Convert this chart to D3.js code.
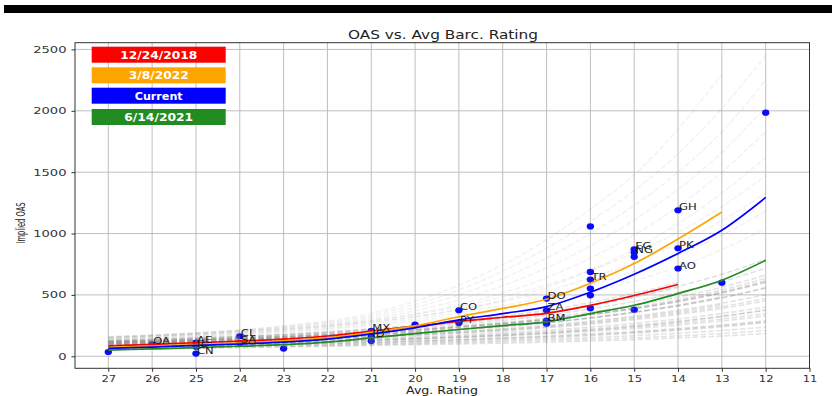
<!DOCTYPE html>
<html>
<head>
<meta charset="utf-8">
<script src="https://cdn.jsdelivr.net/npm/d3@7"></script>
<style>
  body { margin: 0; background: #fff; }
  svg { display: block; }
  text { font-family: "DejaVu Sans", sans-serif; }
</style>
</head>
<body>
<svg id="chart" width="832" height="396"></svg>
<script>
// ---- data ----
const xTickValues = [27, 26, 25, 24, 23, 22, 21, 20, 19, 18, 17, 16, 15, 14, 13, 12, 11];
const yTickValues = [0, 500, 1000, 1500, 2000, 2500];

// fitted curves, one value per integer rating
const curveRatings = [27, 26, 25, 24, 23, 22, 21, 20, 19, 18, 17, 16, 15, 14, 13, 12];
const oasDec2018 = [85, 97, 110, 123, 140, 165, 205, 245, 285, 318, 350, 415, 495, 585, null, null];
const oasMar2022 = [70, 82, 95, 108, 125, 150, 195, 248, 322, 390, 465, 595, 755, 955, 1175, null];
const oasCurrent = [65, 75, 88, 100, 115, 140, 182, 232, 296, 348, 405, 522, 668, 838, 1027, 1294];
const oasJun2021 = [50, 60, 70, 82, 95, 115, 150, 185, 218, 250, 280, 348, 416, 511, 620, 782];

const legendLabels = ["12/24/2018", "3/8/2022", "Current", "6/14/2021"];
const legendColors = ["#ff0000", "#ffa500", "#0000ff", "#228b22"];

// historical daily fits: the bulk of the history ...
const historyRatings = [27, 25, 23, 21, 19, 17, 16, 15, 14, 13, 12];
const historyCurves = [
  [55, 65, 75, 88, 100, 115, 125, 135, 150, 165, 185],
  [60, 70, 80, 94, 110, 128, 138, 150, 166, 185, 210],
  [65, 75, 86, 100, 118, 140, 152, 168, 188, 210, 238],
  [70, 80, 92, 108, 128, 152, 168, 188, 212, 240, 275],
  [72, 83, 96, 113, 134, 160, 176, 196, 220, 248, 282],
  [75, 86, 99, 116, 138, 165, 182, 202, 226, 255, 290],
  [80, 92, 107, 128, 155, 190, 214, 244, 280, 324, 378],
  [82, 94, 109, 128, 152, 182, 202, 226, 254, 288, 328],
  [85, 97, 112, 132, 158, 190, 212, 238, 268, 304, 348],
  [88, 101, 117, 138, 165, 200, 224, 252, 286, 326, 374],
  [90, 104, 121, 144, 174, 212, 238, 268, 304, 348, 400],
  [95, 110, 128, 154, 188, 232, 262, 298, 340, 390, 452],
  [98, 113, 132, 158, 192, 238, 270, 308, 352, 405, 470],
  [100, 115, 135, 162, 198, 245, 278, 318, 364, 420, null],
  [100, 116, 136, 164, 202, 252, 286, 327, 375, 432, 502],
  [105, 121, 143, 174, 216, 272, 310, 356, 410, 475, 555],
  [108, 124, 146, 176, 218, 274, 312, 358, 412, 478, 560],
  [110, 126, 148, 178, 220, 276, 315, 362, 418, 486, null],
  [110, 127, 150, 184, 230, 292, 335, 386, 446, 518, 608],
  [112, 130, 154, 188, 236, 300, 345, 398, 462, 540, 635],
  [115, 133, 158, 194, 244, 312, 360, 416, 482, 562, 662],
  [118, 136, 160, 194, 240, 300, 342, 392, 452, 525, 615],
  [120, 138, 162, 196, 242, 300, 340, 388, 445, 515, 600],
  [120, 139, 165, 204, 258, 333, 385, 447, 520, 608, 718],
  [125, 145, 172, 214, 272, 354, 412, 480, 560, null, null],
  [128, 148, 176, 218, 278, 360, 418, 488, 570, 668, 790],
  [130, 151, 180, 225, 288, 376, 438, 512, 600, null, null]
];
// ... and the stressed periods that fan out above it
const stressCurves = [
  [135, 160, 195, 250, 330, 440, 520, 615, 730, 870, 1040],
  [140, 165, 202, 262, 355, 485, 580, 690, 825, 985, 1185],
  [145, 172, 210, 275, 380, 530, 640, 765, 920, 1105, 1330],
  [145, 176, 216, 288, 405, 580, 700, 840, 1010, 1220, 1470],
  [150, 180, 220, 280, 380, 560, 700, 870, 1080, 1330, 1620],
  [150, 182, 225, 292, 420, 640, 800, 990, 1220, 1500, 1830],
  [155, 185, 230, 305, 460, 720, 900, 1110, 1360, 1660, 2030],
  [155, 188, 236, 320, 500, 800, 1000, 1230, 1500, 1830, 2250],
  [160, 190, 242, 335, 540, 880, 1100, 1350, 1650, 2020, 2450],
  [160, 192, 248, 350, 580, 950, 1200, 1480, 1850, 2300, null]
];

// current issuer spreads
const pointRatings = [27, 26, 25, 25, 25, 24, 24, 23, 21, 21, 21, 20, 19, 19, 17, 17, 17, 17, 16, 16, 16, 16, 16, 16, 15, 15, 15, 15, 14, 14, 14, 13, 12];
const pointOAS =     [35, 98, 112, 78, 22, 163, 108, 63, 208, 160, 124, 258, 375, 272, 470, 375, 290, 266, 1058, 687, 625, 552, 497, 392, 872, 845, 810, 380, 1190, 880, 715, 600, 1985];
const pointLabels =  ["", "OA", "AE", "IL", "CN", "CL", "SA", "", "MX", "ID", "", "", "CO", "PY", "DO", "ZA", "BM", "", "", "", "TR", "", "", "", "EG", "NG", "", "", "GH", "PK", "AO", "", ""];

// ---- layout ----
const svg = d3.select("#chart");
const W = 832, H = 396;
const plot = { left: 75, right: 809.5, top: 42.7, bottom: 368.3 };

const x = d3.scaleLinear().domain([27.76, 11]).range([plot.left, plot.right]);
const y = d3.scaleLinear().domain([-98, 2555]).range([plot.bottom, plot.top]);

svg.append("rect").attr("width", W).attr("height", H).attr("fill", "#fff");
// dark banner strip along the top
svg.append("rect").attr("x", 4).attr("y", 5).attr("width", W - 4).attr("height", 8).attr("fill", "#000");

// gridlines
const grid = svg.append("g").attr("stroke", "#b8b8b8").attr("stroke-width", 0.9);
grid.selectAll("line.v").data(xTickValues).join("line")
  .attr("x1", d => x(d)).attr("x2", d => x(d))
  .attr("y1", plot.top).attr("y2", plot.bottom);
grid.selectAll("line.h").data(yTickValues).join("line")
  .attr("x1", plot.left).attr("x2", plot.right)
  .attr("y1", d => y(d)).attr("y2", d => y(d));

svg.append("clipPath").attr("id", "plotclip").append("rect")
  .attr("x", plot.left).attr("y", plot.top)
  .attr("width", plot.right - plot.left).attr("height", plot.bottom - plot.top);

const body = svg.append("g").attr("clip-path", "url(#plotclip)");

// scatter of current spreads (drawn under the lines)
const points = pointRatings.map((r, i) => ({ r, v: pointOAS[i], label: pointLabels[i] }));
body.append("g").selectAll("ellipse").data(points).join("ellipse")
  .attr("cx", d => x(d.r)).attr("cy", d => y(d.v))
  .attr("rx", 3.7).attr("ry", 3.1)
  .attr("fill", "#0a0aff");

// historical fits
const histLine = d3.line()
  .defined(d => d.v != null)
  .x(d => x(d.r)).y(d => y(d.v))
  .curve(d3.curveMonotoneX);
function drawHistory(curves, opacity) {
  body.append("g").selectAll("path").data(curves).join("path")
    .attr("d", c => histLine(c.map((v, i) => ({ r: historyRatings[i], v }))))
    .attr("fill", "none")
    .attr("stroke", "#6e6e6e")
    .attr("stroke-width", 1.5)
    .attr("stroke-dasharray", "5.5,2.4")
    .attr("stroke-opacity", opacity);
}
drawHistory(historyCurves, 0.2);
drawHistory(stressCurves, 0.09);

// highlighted fits
const fits = [oasDec2018, oasMar2022, oasCurrent, oasJun2021];
body.append("g").selectAll("path").data(fits).join("path")
  .attr("d", s => histLine(s.map((v, i) => ({ r: curveRatings[i], v }))))
  .attr("fill", "none")
  .attr("stroke", (s, i) => legendColors[i])
  .attr("stroke-width", 1.7)
  .attr("stroke-linejoin", "round");

// issuer labels
body.append("g").selectAll("text").data(points.filter(d => d.label)).join("text")
  .attr("transform", d => `translate(${x(d.r) + 1},${y(d.v)}) scale(1.25,1)`)
  .attr("font-size", 9.3)
  .attr("fill", "#1a1a1a")
  .text(d => d.label);

// frame
svg.append("rect")
  .attr("x", plot.left).attr("y", plot.top)
  .attr("width", plot.right - plot.left).attr("height", plot.bottom - plot.top)
  .attr("fill", "none").attr("stroke", "#333").attr("stroke-width", 1);

// axes
const xAxis = svg.append("g").attr("transform", `translate(0,${plot.bottom})`)
  .call(d3.axisBottom(x).tickValues(xTickValues).tickFormat(d3.format("d")).tickSize(3.5).tickPadding(3));
const yAxis = svg.append("g").attr("transform", `translate(${plot.left},0)`)
  .call(d3.axisLeft(y).tickValues(yTickValues).tickFormat(d3.format("d")).tickSize(3.5).tickPadding(3));
[xAxis, yAxis].forEach(a => {
  a.select(".domain").remove();
  a.selectAll(".tick line").attr("stroke", "#333");
  a.selectAll(".tick text").attr("fill", "#333").attr("font-size", 9.5)
    .attr("font-family", "DejaVu Sans, sans-serif");
});
xAxis.selectAll(".tick text").attr("transform", "scale(1.22,1)");
yAxis.selectAll(".tick text").attr("x", -8.5 / 1.38).attr("transform", "scale(1.38,1)");

// title and axis labels
svg.append("text")
  .attr("x", 443).attr("y", 39).attr("text-anchor", "middle")
  .attr("font-size", 12).attr("fill", "#222")
  .attr("textLength", 190).attr("lengthAdjust", "spacingAndGlyphs")
  .text("OAS vs. Avg Barc. Rating");
svg.append("text")
  .attr("x", 442).attr("y", 394).attr("text-anchor", "middle")
  .attr("font-size", 11).attr("fill", "#222")
  .attr("textLength", 72).attr("lengthAdjust", "spacingAndGlyphs")
  .text("Avg. Rating");
svg.append("text")
  .attr("transform", "translate(25,223) rotate(-90)")
  .attr("text-anchor", "middle")
  .attr("font-family", "Liberation Sans, Arial, sans-serif")
  .attr("font-size", 11.5).attr("fill", "#222")
  .attr("textLength", 41).attr("lengthAdjust", "spacingAndGlyphs")
  .text("Implied OAS");

// legend boxes
const legendTop = [46.7, 67.3, 87.7, 109];
const legendWidths = [77, 60, 48, 69];
const lg = svg.append("g");
legendLabels.forEach((lab, i) => {
  lg.append("rect")
    .attr("x", 91.7).attr("y", legendTop[i])
    .attr("width", 134).attr("height", 16)
    .attr("fill", legendColors[i]);
  lg.append("text")
    .attr("x", 158.7).attr("y", legendTop[i] + 11.8)
    .attr("text-anchor", "middle")
    .attr("font-size", 10).attr("font-weight", "bold").attr("fill", "#fff")
    .attr("textLength", legendWidths[i]).attr("lengthAdjust", "spacingAndGlyphs")
    .text(lab);
});
</script>
</body>
</html>
